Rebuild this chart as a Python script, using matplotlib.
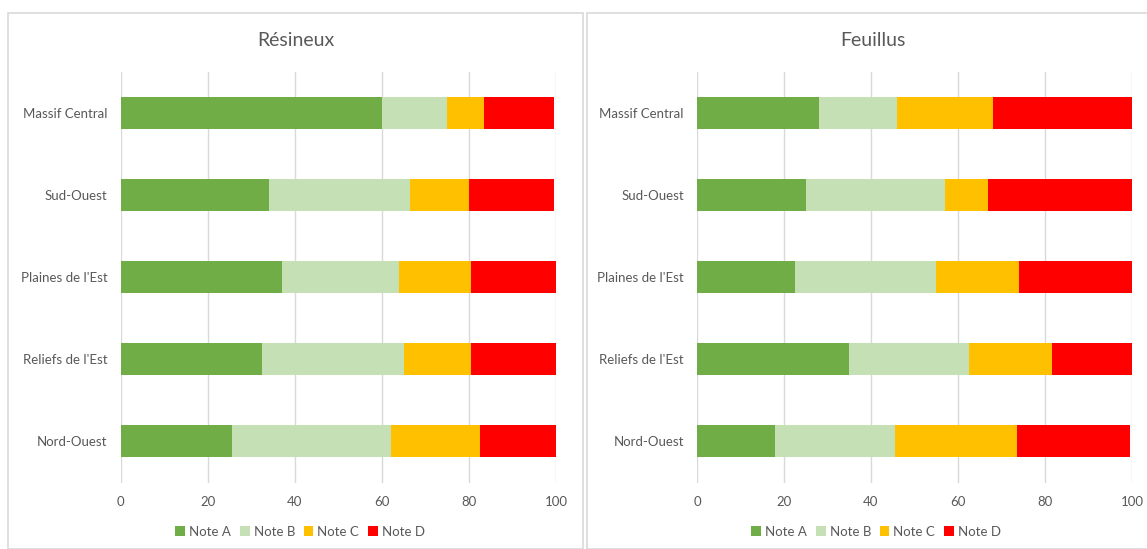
import numpy as np
import matplotlib.pyplot as plt
from matplotlib.patches import Rectangle

regions = ['Nord-Ouest', "Reliefs de l'Est", "Plaines de l'Est", 'Sud-Ouest', 'Massif Central']
notes = ['Note A', 'Note B', 'Note C', 'Note D']
colors = ['#70AD47', '#C5E0B4', '#FFC000', '#FF0000']

# values listed bottom -> top (Nord-Ouest first)
resineux_a = [25.5, 32.5, 37.0, 34.0, 60.0]
resineux_b = [36.5, 32.5, 27.0, 32.5, 15.0]
resineux_c = [20.5, 15.5, 16.5, 13.5, 8.5]
resineux_d = [17.5, 19.5, 19.5, 19.5, 16.0]

feuillus_a = [18.0, 35.0, 22.5, 25.0, 28.0]
feuillus_b = [27.5, 27.5, 32.5, 32.0, 18.0]
feuillus_c = [28.0, 19.0, 19.0, 10.0, 22.0]
feuillus_d = [26.0, 18.5, 26.0, 33.0, 32.0]

W, H = 1147, 549
plt.rcParams['font.family'] = ['Lato', 'DejaVu Sans']
fig = plt.figure(figsize=(W / 100, H / 100), dpi=100)

txt = '#595959'
grid = '#d9d9d9'

# chart frames
fig.patches.append(Rectangle((8 / W, 0), 575 / W, 1 - 13 / H, transform=fig.transFigure,
                             fill=False, edgecolor=grid, lw=1.2))
fig.patches.append(Rectangle((587 / W, 0), 600 / W, 1 - 13 / H, transform=fig.transFigure,
                             fill=False, edgecolor=grid, lw=1.2))


def panel(x0, x1, title, tx, lx, series):
    ax = fig.add_axes([x0 / W, 1 - 482.5 / H, (x1 - x0) / W, 410.5 / H])
    y = np.arange(len(regions))
    left = np.zeros(len(regions))
    for vals, name, c in zip(series, notes, colors):
        ax.barh(y, vals, left=left, height=0.39, color=c, label=name, linewidth=0)
        left += np.array(vals)
    ax.set_xlim(0, 100)
    ax.set_ylim(-0.5, len(regions) - 0.5)
    ax.set_xticks(range(0, 101, 20))
    ax.set_yticks(y)
    ax.set_yticklabels(regions)
    ax.grid(axis='x', color=grid, lw=1)
    ax.set_axisbelow(True)
    for s in ax.spines.values():
        s.set_visible(False)
    ax.tick_params(length=0, colors=txt, labelsize=9.5)
    ax.tick_params(axis='y', pad=9.5)
    ax.tick_params(axis='x', pad=10)
    h, l = ax.get_legend_handles_labels()
    fig.legend(h, l, loc='center', bbox_to_anchor=(lx / W, 1 - 531.5 / H), ncol=4, frameon=False,
               fontsize=9.5, labelcolor=txt, handlelength=0.75, handleheight=0.75,
               handletextpad=0.3, columnspacing=0.65)
    fig.text(tx / W, 1 - 40 / H, title, ha='center', va='center', fontsize=14, color=txt)
    return ax


panel(120.5, 556, 'Résineux', 295.5, 300, [resineux_a, resineux_b, resineux_c, resineux_d])
panel(697, 1132, 'Feuillus', 873, 876, [feuillus_a, feuillus_b, feuillus_c, feuillus_d])

fig.savefig('out.png', dpi=100)
